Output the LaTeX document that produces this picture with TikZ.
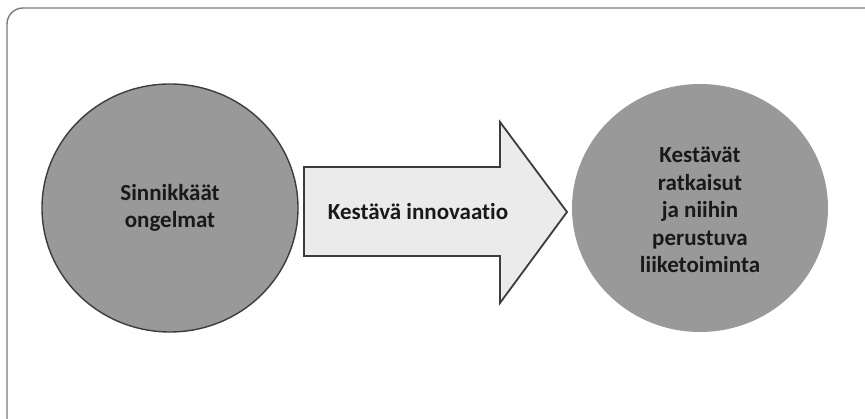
\documentclass[tikz,border=0pt]{standalone}
\usepackage{fontspec}
\setmainfont{Carlito}[Ligatures={NoCommon}]
\usetikzlibrary{shapes.geometric}
\definecolor{framegray}{HTML}{7A7A7A}
\definecolor{discfill}{HTML}{999999}
\definecolor{edgedark}{HTML}{3C3C3C}
\definecolor{arrowfill}{HTML}{EBEBEB}
\begin{document}
\begin{tikzpicture}[x=1pt,y=1pt,
  disc/.style={ellipse, minimum width=256pt, minimum height=248pt, fill=discfill, inner sep=0pt},
  label/.style={font=\bfseries\fontsize{23}{27.5}\selectfont, align=center, text=black!90},
  arrowbody/.style={fill=arrowfill, draw=edgedark, line width=1.8pt, line join=miter}]
\useasboundingbox (0,0) rectangle (865,419);
\begin{scope}
  \clip (0,0) rectangle (865,419);
  \draw[framegray, line width=1.4pt, rounded corners=16pt] (7,411) rectangle (890,-20);
\end{scope}
% left disc: the problems
\node[disc, draw=edgedark, line width=1.4pt] (left) at (170,211) {};
\node[label] (lefttext) at (left.center) {Sinnikkäät\\ongelmat};
% right disc: the outcome
\node[disc] (right) at (700,211) {};
\node[label] (righttext) at (700,209) {Kestävät\\ratkaisut\\ja niihin\\perustuva\\liiketoiminta};
% block arrow between the discs
\coordinate (bl) at (304,163);
\coordinate (tl) at (304,252);
\coordinate (hb) at (500,116);
\coordinate (ht) at (500,297);
\coordinate (tip) at (567,207);
\draw[arrowbody] (bl) -- (tl) -- (500,252) -- (ht) -- (tip) -- (hb) -- (500,163) -- cycle;
\node[label] (mid) at (418,207) {Kestävä innovaatio};
\end{tikzpicture}
\end{document}
